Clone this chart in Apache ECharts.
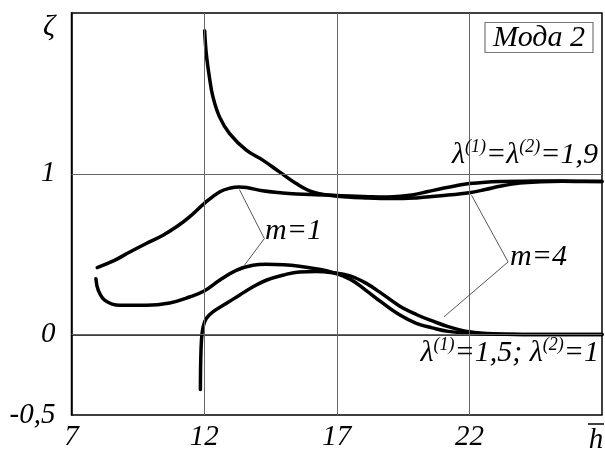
<!DOCTYPE html>
<html>
<head>
<meta charset="utf-8">
<script src="https://cdn.jsdelivr.net/npm/echarts@6/dist/echarts.min.js"></script>
<style>html,body{margin:0;padding:0;background:#fff}#container{width:605px;height:452px}</style>
</head>
<body>
<div id="container"></div>
<script>
// lambda(1)=lambda(2)=1,9 group
var xM1Upper = [7.97, 8.6, 9.2, 9.8, 10.45, 11.0, 11.45, 12, 12.58, 13.0, 13.3, 13.6, 14.2, 14.96, 15.5, 16.2, 16.84, 17.5, 18.2, 18.9, 19.4, 19.9, 20.4, 21.0, 21.5, 22, 22.6, 23.2, 24, 25, 26, 27];
var yM1Upper = [0.417, 0.46, 0.514, 0.565, 0.618, 0.675, 0.732, 0.815, 0.887, 0.912, 0.918, 0.915, 0.894, 0.881, 0.875, 0.87, 0.866, 0.862, 0.858, 0.856, 0.86, 0.87, 0.888, 0.91, 0.926, 0.939, 0.948, 0.952, 0.954, 0.955, 0.954, 0.952];
var xM4Upper = [12.02, 12.08, 12.2, 12.33, 12.58, 12.96, 13.59, 14.21, 14.84, 15.47, 16.09, 16.72, 17.4, 18.2, 18.9, 19.5, 20.0, 20.6, 21.2, 22, 22.6, 23.2, 23.9, 24.7, 25.5, 27];
var yM4Upper = [1.89, 1.75, 1.6, 1.48, 1.354, 1.25, 1.147, 1.085, 1.012, 0.94, 0.887, 0.867, 0.856, 0.85, 0.846, 0.846, 0.85, 0.859, 0.868, 0.882, 0.902, 0.924, 0.942, 0.95, 0.953, 0.952];
// lambda(1)=1,5; lambda(2)=1 group
var xM1Lower = [7.92, 8.01, 8.26, 8.82, 9.83, 10.7, 11.45, 12, 12.58, 13.21, 13.84, 14.34, 15.0, 15.59, 16.2, 16.84, 17.5, 18.1, 18.7, 19.35, 20.0, 20.6, 21.2, 22, 23, 24, 25, 27];
var yM1Lower = [0.348, 0.276, 0.213, 0.182, 0.182, 0.197, 0.234, 0.271, 0.338, 0.4, 0.431, 0.437, 0.434, 0.425, 0.41, 0.387, 0.345, 0.275, 0.2, 0.125, 0.07, 0.042, 0.02, 0.008, 0.003, 0.001, 0, 0];
var xM4Lower = [11.86, 11.87, 11.9, 11.96, 12.08, 12.33, 12.83, 13.33, 13.83, 14.34, 14.96, 15.59, 16.2, 16.84, 17.5, 18.1, 18.7, 19.35, 20.0, 20.6, 21.2, 22, 23, 24, 25, 27];
var yM4Lower = [-0.342, -0.18, -0.035, 0.047, 0.1, 0.141, 0.193, 0.245, 0.296, 0.338, 0.369, 0.39, 0.392, 0.385, 0.365, 0.32, 0.255, 0.18, 0.125, 0.085, 0.05, 0.018, 0.004, 0.001, 0, 0];

var xGrid = [12, 17, 22];
var yGrid = [0, 1];
var yTickText = {'-0.5': '-0,5', '0': '0', '1': '1'};

var font = "'Liberation Serif', 'Times New Roman', serif";

function pairs(xs, ys) {
    return xs.map(function (x, i) { return [x, ys[i]]; });
}

function curve(name, xs, ys) {
    return {
        name: name,
        type: 'line',
        data: pairs(xs, ys),
        showSymbol: false,
        symbol: 'none',
        smooth: 0.4,
        z: 3,
        lineStyle: {color: '#000', width: 3.5, cap: 'round', join: 'round'}
    };
}

var rich = {
    n: {fontFamily: font, fontStyle: 'italic', fontSize: 30, color: '#000', lineHeight: 32, verticalAlign: 'bottom'},
    s: {fontFamily: font, fontStyle: 'italic', fontSize: 18, color: '#000', lineHeight: 32, verticalAlign: 'top'}
};

var dom = document.getElementById('container');
var myChart = echarts.init(dom);
var option = {
    animation: false,
    grid: {
        left: 71.5, right: 2, top: 13, bottom: 36.5,
        show: true, borderColor: '#000', borderWidth: 1.5
    },
    xAxis: {
        type: 'value', min: 7, max: 27, interval: 5,
        axisLine: {show: true, lineStyle: {color: '#000', width: 1.5}},
        axisTick: {show: false},
        splitLine: {show: false},
        axisLabel: {
            margin: 8, color: '#000', fontFamily: font, fontStyle: 'italic', fontSize: 29,
            formatter: function (v) { return v === 27 ? '' : String(v); }
        }
    },
    yAxis: {
        type: 'value', min: -0.5, max: 2, interval: 0.5,
        axisLine: {show: true, lineStyle: {color: '#000', width: 1.5}},
        axisTick: {show: false},
        splitLine: {show: false},
        axisLabel: {
            margin: 16, color: '#000', fontFamily: font, fontStyle: 'italic', fontSize: 29,
            formatter: function (v) { return yTickText[String(v)] || ''; }
        }
    },
    series: [
        {
            type: 'line', data: [], z: 1,
            markLine: {
                silent: true, symbol: 'none', label: {show: false},
                lineStyle: {color: '#666', width: 1, type: 'solid'},
                data: xGrid.map(function (v) { return {xAxis: v}; })
                    .concat(yGrid.map(function (v) { return {yAxis: v}; }))
            }
        },
        {
            type: 'line', data: [], z: 2,
            markLine: {
                silent: true, symbol: 'none', label: {show: false},
                lineStyle: {color: '#555', width: 1, type: 'solid'},
                data: [
                    [{coord: [13.33, 0.902]}, {coord: [14.27, 0.597]}],
                    [{coord: [14.27, 0.597]}, {coord: [13.52, 0.431]}],
                    [{coord: [22.08, 0.867]}, {coord: [23.46, 0.452]}],
                    [{coord: [23.46, 0.452]}, {coord: [21.04, 0.11]}]
                ]
            }
        },
        curve('m=1, 1,9', xM1Upper, yM1Upper),
        curve('m=4, 1,9', xM4Upper, yM4Upper),
        curve('m=1, 1,5', xM1Lower, yM1Lower),
        curve('m=4, 1,5', xM4Lower, yM4Lower)
    ],
    graphic: [
        {type: 'rect', shape: {x: 485, y: 22.5, width: 108, height: 30},
         style: {fill: '#fff', stroke: '#777', lineWidth: 1.2}, z: 10},
        {type: 'text', x: 539, y: 38, z: 11,
         style: {text: 'Мода 2', font: 'italic 30px ' + font, fill: '#000', textAlign: 'center', textVerticalAlign: 'middle'}},
        {type: 'text', x: 598, y: 154, z: 11,
         style: {text: '{n|λ}{s|(1)}{n|=λ}{s|(2)}{n|=1,9}', rich: rich, textAlign: 'right', textVerticalAlign: 'middle'}},
        {type: 'text', x: 599, y: 352, z: 11,
         style: {text: '{n|λ}{s|(1)}{n|=1,5; λ}{s|(2)}{n|=1}', rich: rich, textAlign: 'right', textVerticalAlign: 'middle'}},
        {type: 'text', x: 265, y: 231, z: 11,
         style: {text: 'm=1', font: 'italic 30px ' + font, fill: '#000', textAlign: 'left', textVerticalAlign: 'middle'}},
        {type: 'text', x: 510, y: 257, z: 11,
         style: {text: 'm=4', font: 'italic 30px ' + font, fill: '#000', textAlign: 'left', textVerticalAlign: 'middle'}},
        {type: 'text', x: 49, y: 27, z: 11,
         style: {text: 'ζ', font: 'italic 30px ' + font, fill: '#000', textAlign: 'center', textVerticalAlign: 'middle'}},
        {type: 'text', x: 596, y: 440, z: 11,
         style: {text: 'h', font: 'italic 29px ' + font, fill: '#000', textAlign: 'center', textVerticalAlign: 'middle'}},
        {type: 'line', shape: {x1: 588, y1: 424, x2: 604, y2: 424}, z: 11,
         style: {stroke: '#000', lineWidth: 1.5}}
    ]
};
if (option && typeof option === 'object') {
    myChart.setOption(option, true);
}
</script>
</body>
</html>
